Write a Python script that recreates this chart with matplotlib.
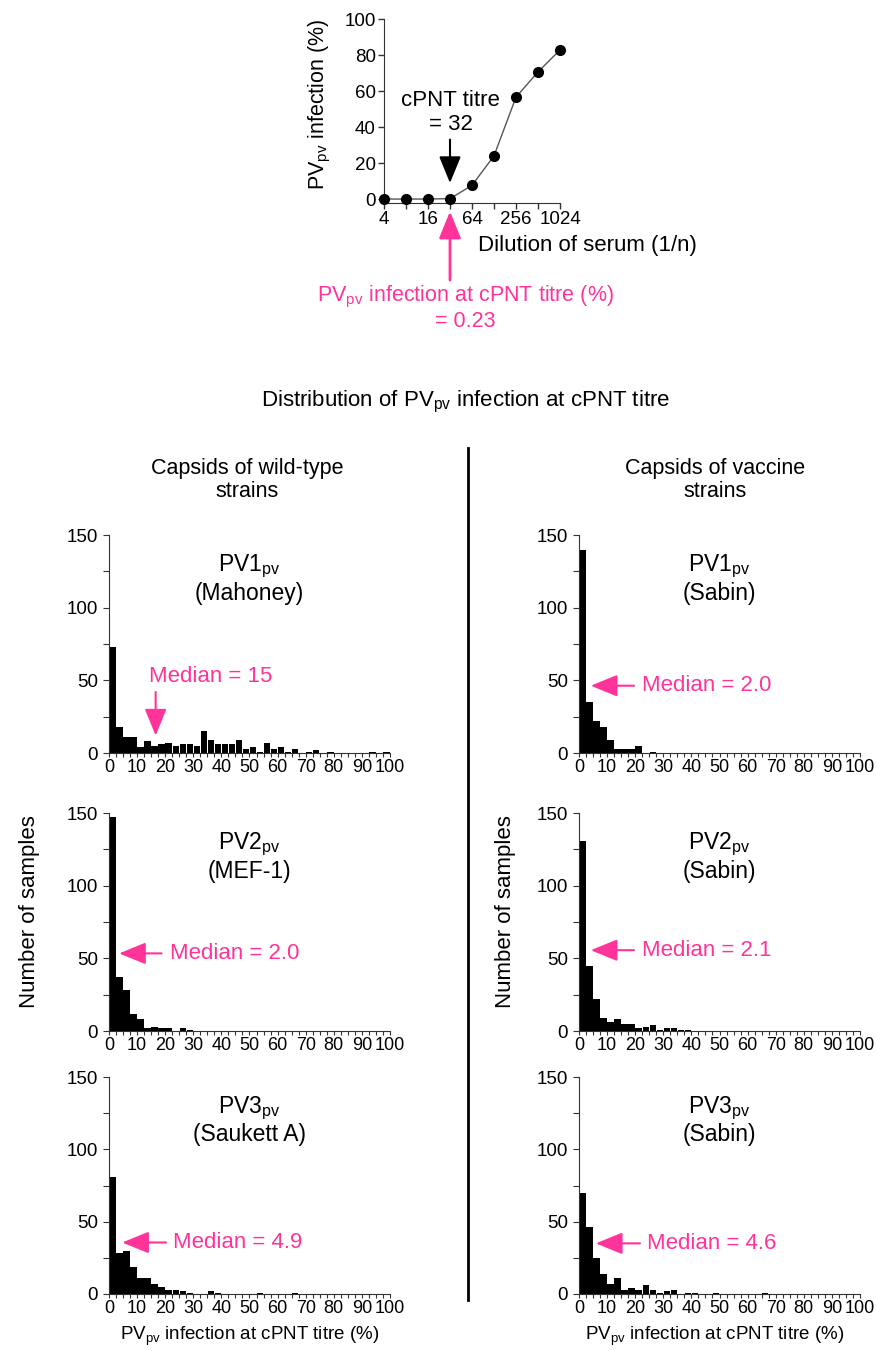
import numpy as np
import matplotlib
matplotlib.use('Agg')
from matplotlib import pyplot as plt
from matplotlib.ticker import NullFormatter, MultipleLocator

plt.rcParams['font.family'] = ['Liberation Sans', 'DejaVu Sans']
plt.rcParams['mathtext.default'] = 'regular'

PINK = '#FF3399'

# titration curve of one serum
dilutions = [4, 8, 16, 32, 64, 128, 256, 512, 1024]
infection = [0, 0, 0, 0.23, 7.6, 24.0, 56.6, 70.6, 82.8]

# histograms, bins of 2.5 % from 0 to 100
bin_edges = np.arange(0, 100, 2.5)
pv1_mahoney = [73, 18, 11, 11, 4, 8, 5, 6, 7, 5, 6, 6, 5, 15, 9, 6, 6, 6, 9, 3,
               4, 1, 7, 3, 4, 1, 3, 0, 1, 2, 0, 1, 0, 0, 0, 0, 0, 1, 0, 1]
pv1_sabin = [140, 35, 22, 18, 9, 3, 3, 3, 5, 0, 1, 0, 0, 0, 0, 0, 0, 0, 0, 0,
             0, 0, 0, 0, 0, 0, 0, 0, 0, 0, 0, 0, 0, 0, 0, 0, 0, 0, 0, 0]
pv2_mef1 = [147, 37, 28, 12, 8, 2, 3, 2, 2, 0, 2, 1, 0, 0, 0, 0, 0, 0, 0, 0,
            0, 0, 0, 0, 0, 0, 0, 0, 0, 0, 0, 0, 0, 0, 0, 0, 0, 0, 0, 0]
pv2_sabin = [131, 45, 22, 9, 6, 8, 5, 5, 2, 3, 4, 1, 2, 2, 1, 1, 0, 0, 0, 0,
             0, 0, 0, 0, 0, 0, 0, 0, 0, 0, 0, 0, 0, 0, 0, 0, 0, 0, 0, 0]
pv3_saukett = [81, 28, 30, 19, 11, 11, 7, 5, 3, 3, 2, 1, 0, 0, 2, 1, 0, 0, 0, 0,
               0, 1, 0, 0, 0, 0, 1, 0, 0, 0, 0, 0, 0, 0, 0, 0, 0, 0, 0, 0]
pv3_sabin = [70, 46, 25, 14, 7, 11, 3, 4, 3, 6, 3, 1, 2, 3, 0, 1, 1, 0, 0, 1,
             0, 0, 0, 0, 0, 0, 1, 0, 0, 0, 0, 0, 0, 0, 0, 0, 0, 0, 0, 0]

panel_names = [r'PV1$_{pv}$' + '\n(Mahoney)', r'PV1$_{pv}$' + '\n(Sabin)',
               r'PV2$_{pv}$' + '\n(MEF-1)', r'PV2$_{pv}$' + '\n(Sabin)',
               r'PV3$_{pv}$' + '\n(Saukett A)', r'PV3$_{pv}$' + '\n(Sabin)']
medians = ['15', '2.0', '2.0', '2.1', '4.9', '4.6']
counts = [pv1_mahoney, pv1_sabin, pv2_mef1, pv2_sabin, pv3_saukett, pv3_sabin]

W, H = 877, 1351
fig = plt.figure(figsize=(W / 100, H / 100), dpi=100)


def fx(px):
    return px / W


def fy(py):
    return 1 - py / H


# ---- top: titration curve ----
ax0 = fig.add_axes([fx(384), fy(203), 176 / W, 184 / H])
ax0.plot(dilutions, infection, color='#555555', lw=1, marker='o', ms=7,
         mfc='black', mec='black', clip_on=False, zorder=3)
ax0.set_xscale('log', base=2)
ax0.set_xlim(4, 1024)
ax0.set_ylim(-2.2, 100)
ax0.set_xticks([4, 16, 64, 256, 1024])
ax0.set_xticklabels(['4', '16', '64', '256', '1024'])
ax0.set_xticks([8, 32, 128, 512], minor=True)
ax0.xaxis.set_minor_formatter(NullFormatter())
ax0.set_yticks([0, 20, 40, 60, 80, 100])
for s in ['top', 'right']:
    ax0.spines[s].set_visible(False)
for s in ['left', 'bottom']:
    ax0.spines[s].set_color('#333333')
ax0.tick_params(which='both', direction='out', length=4, width=1, labelsize=13.5,
                pad=2, color='#333333')
fig.text(fx(478), fy(246), 'Dilution of serum (1/n)', fontsize=16,
         ha='left', va='center')
fig.text(fx(320), fy(104), r'PV$_{pv}$ infection (%)', fontsize=15.5,
         rotation=90, ha='center', va='center')

ax0.text(32.7, 48, 'cPNT titre\n= 32', fontsize=16, ha='center', va='center',
         linespacing=1.15)
ax0.annotate('', xy=(32, 8.9), xytext=(32, 33),
             arrowprops=dict(arrowstyle='-|>,head_length=1.1,head_width=0.45',
                             mutation_scale=15, color='black', lw=1.5,
                             shrinkA=0, shrinkB=0), annotation_clip=False)
ax0.annotate('', xy=(32, -6.9), xytext=(32, -45),
             arrowprops=dict(arrowstyle='-|>,head_length=1.1,head_width=0.45',
                             mutation_scale=15, color=PINK, lw=2,
                             shrinkA=0, shrinkB=0), annotation_clip=False)
fig.text(fx(465), fy(308), r'PV$_{pv}$ infection at cPNT titre (%)' + '\n= 0.23',
         fontsize=15.5, color=PINK, ha='center', va='center', linespacing=1.1)

# ---- headings ----
fig.text(fx(466), fy(402), r'Distribution of PV$_{pv}$ infection at cPNT titre',
         fontsize=16, ha='center', va='center')
fig.text(fx(247), fy(480), 'Capsids of wild-type\nstrains', fontsize=15.5,
         ha='center', va='center', linespacing=1.1)
fig.text(fx(715), fy(480), 'Capsids of vaccine\nstrains', fontsize=15.5,
         ha='center', va='center', linespacing=1.1)
fig.add_artist(plt.Line2D([fx(468), fx(468)], [fy(448), fy(1300)],
                          color='black', lw=2))

# ---- histograms ----
lefts = [109, 579]
rows = [(535, 753), (813, 1031), (1077, 1294)]
# arrow tail, arrow tip, text x, text y, text alignment
arrows = [((16.6, 42), (16.6, 12), (36.2, 52.5), 'center'),
          ((19.6, 46.3), (4.2, 46.3), (22.3, 46.3), 'left'),
          ((18.7, 53.4), (3.6, 53.4), (21.7, 53.4), 'left'),
          ((19.6, 55.6), (4.2, 55.6), (22.3, 55.6), 'left'),
          ((20.3, 35.6), (4.7, 35.6), (22.6, 35.6), 'left'),
          ((21.7, 35.0), (6.0, 35.0), (24.3, 35.0), 'left')]

for i in range(6):
    r, c = divmod(i, 2)
    top, bot = rows[r]
    ax = fig.add_axes([fx(lefts[c]), fy(bot), 281 / W, (bot - top) / H])
    ax.bar(bin_edges + 0.1, counts[i], width=2.3, align='edge', color='black')
    ax.set_xlim(0, 100)
    ax.set_ylim(0, 150)
    ax.set_xticks(np.arange(0, 101, 10))
    ax.xaxis.set_minor_locator(MultipleLocator(2.5))
    ax.set_yticks([0, 50, 100, 150])
    ax.yaxis.set_minor_locator(MultipleLocator(25))
    for s in ['top', 'right']:
        ax.spines[s].set_visible(False)
    for s in ['left', 'bottom']:
        ax.spines[s].set_color('#333333')
    ax.tick_params(axis='x', which='both', direction='out', length=3, width=0.8,
                   labelsize=13, pad=1, color='#333333')
    ax.tick_params(axis='y', which='both', direction='out', length=4, width=0.8,
                   labelsize=13.5, pad=4, color='#333333')
    ax.text(50, 120, panel_names[i], fontsize=16.5, ha='center', va='center',
            linespacing=1.1)
    tail, tip, tpos, ha = arrows[i]
    ax.annotate('', xy=tip, xytext=tail,
                arrowprops=dict(arrowstyle='-|>,head_length=1.1,head_width=0.45',
                                mutation_scale=15, color=PINK, lw=1.5,
                                shrinkA=0, shrinkB=0))
    ax.text(tpos[0], tpos[1], 'Median = ' + medians[i], fontsize=16,
            color=PINK, ha=ha, va='center')

for xc in [30, 505]:
    fig.text(fx(xc), fy(912), 'Number of samples', fontsize=16, rotation=90,
             ha='center', va='center')
for xc in [250, 715]:
    fig.text(fx(xc), fy(1336), r'PV$_{pv}$ infection at cPNT titre (%)',
             fontsize=13.5, ha='center', va='center')

plt.savefig('out.png', dpi=100)
